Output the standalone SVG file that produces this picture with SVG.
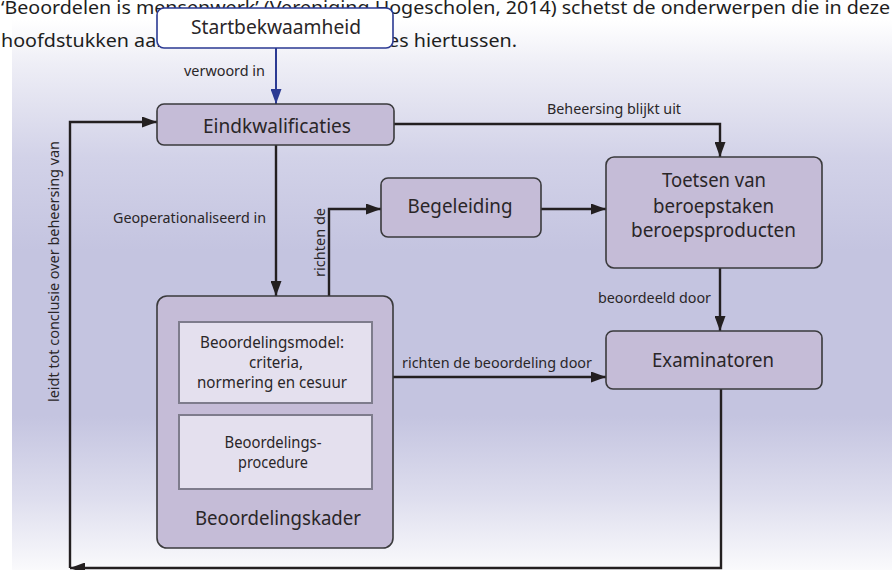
<svg xmlns="http://www.w3.org/2000/svg" width="892" height="570" viewBox="0 0 892 570">
<defs>
<linearGradient id="bg" x1="0" y1="0" x2="0" y2="1">
<stop offset="0" stop-color="#ffffff"/>
<stop offset="0.08" stop-color="#eeeef6"/>
<stop offset="0.25" stop-color="#d2d2e8"/>
<stop offset="0.42" stop-color="#c4c4e0"/>
<stop offset="0.72" stop-color="#c4c4e0"/>
<stop offset="0.87" stop-color="#dedeee"/>
<stop offset="1" stop-color="#fafafc"/>
</linearGradient>
<marker id="ah" markerUnits="userSpaceOnUse" markerWidth="15" markerHeight="11" refX="15" refY="5.5" orient="auto">
<path d="M0,0 L15,5.5 L0,11 z" fill="#231f20"/>
</marker>
<marker id="ahb" markerUnits="userSpaceOnUse" markerWidth="15" markerHeight="11" refX="15" refY="5.5" orient="auto">
<path d="M0,0 L15,5.5 L0,11 z" fill="#2b3a93"/>
</marker>
<style>
text{font-family:"Noto Sans","Open Sans","Liberation Sans",sans-serif;fill:#2a2628;}
.para{font-size:18px;fill:#1e1e1e;}
.nl{font-size:20px;text-anchor:middle;}
.il{font-size:16px;text-anchor:middle;}
.cl{font-size:15px;}
.node{fill:#c5bcd7;stroke:#3a3a3c;stroke-width:1.6;}
.inner{fill:#e4e0ee;stroke:#7e7c8c;stroke-width:2;}
.ln{fill:none;stroke:#231f20;stroke-width:2.4;}
</style>
</defs>
<rect x="0" y="0" width="892" height="570" fill="#ffffff"/>
<rect x="12" y="20" width="880" height="550" fill="url(#bg)"/>

<g id="paragraph">
<text class="para" x="1" y="14" textLength="889" lengthAdjust="spacingAndGlyphs">‘Beoordelen is mensenwerk’ (Vereniging Hogescholen, 2014) schetst de onderwerpen die in deze</text>
<text class="para" x="1" y="47" textLength="516" lengthAdjust="spacingAndGlyphs">hoofdstukken aan bod komen en de relaties hiertussen.</text>
</g>

<g id="connectors">
<path class="ln" d="M276,48 L276,104" style="stroke:#2b3a93;stroke-width:2" marker-end="url(#ahb)"/>
<path class="ln" d="M394,124 L720,124 L720,157" marker-end="url(#ah)"/>
<path class="ln" d="M276,145 L276,296" marker-end="url(#ah)"/>
<path class="ln" d="M329,321 L329,209 L381,209" marker-end="url(#ah)"/>
<path class="ln" d="M541,209 L606,209" marker-end="url(#ah)"/>
<path class="ln" d="M720,268 L720,331" marker-end="url(#ah)"/>
<path class="ln" d="M393,377 L606,377" marker-end="url(#ah)"/>
<path class="ln" d="M721,389 L721,568 L70,568" marker-end="url(#ah)"/>
<path class="ln" d="M70,568 L70,122 L157,122" marker-end="url(#ah)"/>
<path class="ln" d="M782,209 L815,209" marker-end="url(#ah)"/>
<text class="cl" x="265" y="76" text-anchor="end" textLength="81" lengthAdjust="spacingAndGlyphs">verwoord in</text>
<text class="cl" x="547" y="114" textLength="134" lengthAdjust="spacingAndGlyphs">Beheersing blijkt uit</text>
<text class="cl" x="113" y="223" textLength="153" lengthAdjust="spacingAndGlyphs">Geoperationaliseerd in</text>
<text class="cl" x="0" y="0" text-anchor="middle" transform="translate(325,242.5) rotate(-90)" textLength="69" lengthAdjust="spacingAndGlyphs">richten de</text>
<text class="cl" x="402" y="368" textLength="190" lengthAdjust="spacingAndGlyphs">richten de beoordeling door</text>
<text class="cl" x="598" y="303" textLength="113" lengthAdjust="spacingAndGlyphs">beoordeeld door</text>
<text class="cl" x="0" y="0" text-anchor="middle" transform="translate(59,271.5) rotate(-90)" textLength="261" lengthAdjust="spacingAndGlyphs">leidt tot conclusie over beheersing van</text>
</g>

<g id="startbekwaamheid">
<rect x="157" y="8" width="236" height="40" rx="7" fill="#ffffff" stroke="#2b3a93" stroke-width="1.6"/>
<text class="nl" x="276" y="34" textLength="170" lengthAdjust="spacingAndGlyphs">Startbekwaamheid</text>
</g>

<g id="eindkwalificaties">
<rect class="node" x="157" y="104" width="237" height="41" rx="7"/>
<text class="nl" x="277" y="133" textLength="148" lengthAdjust="spacingAndGlyphs">Eindkwalificaties</text>
</g>

<g id="begeleiding">
<rect class="node" x="381" y="178" width="160" height="59" rx="7"/>
<text class="nl" x="460" y="213" textLength="105" lengthAdjust="spacingAndGlyphs">Begeleiding</text>
</g>

<g id="toetsen">
<rect class="node" x="606" y="157" width="216" height="111" rx="8"/>
<text class="nl" x="714" y="187" textLength="104" lengthAdjust="spacingAndGlyphs">Toetsen van</text>
<text class="nl" x="713.5" y="213" textLength="121" lengthAdjust="spacingAndGlyphs">beroepstaken</text>
<text class="nl" x="713.5" y="237" textLength="165" lengthAdjust="spacingAndGlyphs">beroepsproducten</text>
</g>

<g id="examinatoren">
<rect class="node" x="606" y="331" width="216" height="58" rx="7"/>
<text class="nl" x="713" y="367" textLength="122" lengthAdjust="spacingAndGlyphs">Examinatoren</text>
</g>

<g id="beoordelingskader">
<rect class="node" x="157" y="296" width="236" height="252" rx="10"/>
<text class="nl" x="278" y="525" textLength="166" lengthAdjust="spacingAndGlyphs">Beoordelingskader</text>
</g>

<g id="beoordelingsmodel">
<rect class="inner" x="179" y="322" width="193" height="81"/>
<text class="il" x="272" y="348" textLength="144" lengthAdjust="spacingAndGlyphs">Beoordelingsmodel:</text>
<text class="il" x="276" y="368" textLength="54" lengthAdjust="spacingAndGlyphs">criteria,</text>
<text class="il" x="272" y="388" textLength="150" lengthAdjust="spacingAndGlyphs">normering en cesuur</text>
</g>

<g id="beoordelingsprocedure">
<rect class="inner" x="179" y="415" width="193" height="74"/>
<text class="il" x="273" y="448" textLength="97" lengthAdjust="spacingAndGlyphs">Beoordelings-</text>
<text class="il" x="273" y="468" textLength="70" lengthAdjust="spacingAndGlyphs">procedure</text>
</g>
</svg>
